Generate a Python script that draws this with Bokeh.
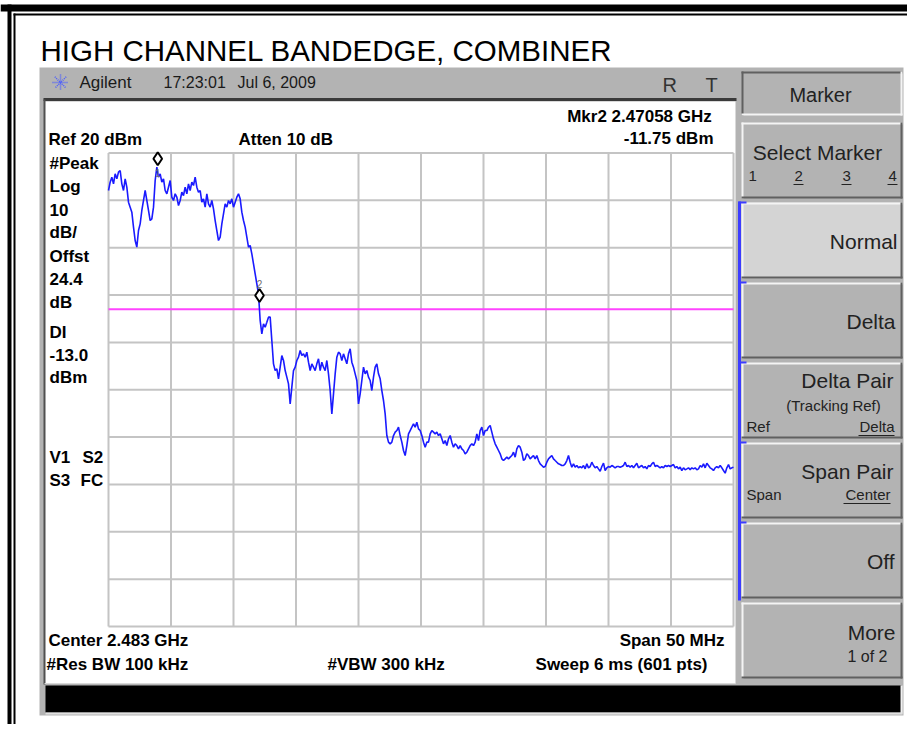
import numpy as np
from bokeh.plotting import figure
from bokeh.models import Range1d
from bokeh.core.properties import value
from bokeh.embed import file_html
from bokeh.resources import INLINE

# ---------------- data ----------------
center_mhz = 2483.0
span_mhz = 50.0
ref_level_dbm = 20.0
db_per_div = 10.0
n_div = 10
display_line_dbm = -13.0

# trace (dBm), sweep points evenly spaced over the span
trace_dbm = [
    12.08, 13.84, 14.90, 13.49, 15.60, 14.54, 15.95, 16.30, 13.49, 12.08,
    14.54, 12.78, 9.62, 8.56, 7.50, 4.34, 1.52, 0.11, 3.63, 5.04,
    7.86, 9.97, 12.08, 9.97, 7.86, 5.74, 6.10, 8.56, 14.19, 17.01,
    14.90, 15.60, 13.84, 14.54, 12.08, 11.38, 12.78, 14.19, 10.67, 9.97,
    11.38, 10.67, 8.91, 9.97, 11.73, 11.02, 12.78, 11.38, 13.49, 12.08,
    13.84, 13.14, 14.90, 12.78, 11.73, 12.08, 9.62, 10.32, 8.56, 11.38,
    9.26, 8.56, 9.97, 8.21, 5.74, 3.63, 1.52, 2.22, 5.04, 7.15,
    9.26, 8.56, 9.97, 9.26, 10.32, 8.56, 9.62, 10.67, 11.38, 10.32,
    7.50, 5.74, 4.34, 2.22, 0.11, 0.46, -1.30, -3.41, -5.52, -7.63,
    -9.74, -15.38, -18.19, -16.08, -16.78, -15.73, -14.67, -14.67, -19.60, -24.53,
    -25.94, -25.58, -27.70, -25.23, -22.77, -23.82, -25.94, -27.34, -28.75, -32.98,
    -29.46, -25.94, -25.23, -23.82, -23.12, -21.71, -22.77, -22.42, -23.12, -22.06,
    -24.18, -25.94, -24.53, -25.23, -25.94, -24.53, -23.47, -25.94, -24.18, -25.23,
    -25.94, -23.82, -26.64, -30.16, -35.09, -30.86, -26.64, -23.12, -22.06, -22.42,
    -23.82, -22.42, -23.47, -24.53, -22.42, -21.36, -24.18, -25.23, -26.64, -28.05,
    -32.98, -30.86, -28.05, -25.23, -26.64, -25.94, -27.34, -28.05, -30.16, -27.34,
    -25.23, -24.53, -26.64, -27.70,
    -30.16, -32.27, -35.09, -39.67, -41.07, -41.43, -41.07, -39.67, -38.96, -38.61,
    -37.91, -39.67, -41.07, -42.83, -43.89, -41.78, -39.31, -38.61, -37.91, -37.20,
    -37.91, -36.85, -38.26, -38.61, -39.67, -41.07, -42.13, -41.07, -41.07, -39.31,
    -38.61, -38.96, -39.31, -38.96, -39.67, -39.31, -40.37, -41.43, -40.72, -41.78,
    -40.37, -39.67, -41.07, -42.13, -41.43, -41.78, -42.48, -41.78, -42.48, -42.83,
    -43.54, -43.19, -42.48, -41.78, -41.43, -41.78, -41.07, -39.31, -40.72, -38.61,
    -37.91, -39.67, -38.61, -38.61, -37.91, -37.55, -38.96, -40.37, -41.43, -42.13,
    -42.83, -43.54, -44.59, -44.95, -44.59, -44.24, -44.59, -44.24, -43.89, -43.19,
    -44.24, -42.48, -41.78, -42.13, -43.19, -44.95, -44.59, -43.54, -43.89, -44.59,
    -44.24, -43.89, -44.59, -43.89, -44.95, -45.65, -46.00, -46.35, -46.21, -45.30,
    -44.59, -44.24, -43.89, -44.59, -44.95, -45.30, -45.65, -45.79, -46.00, -46.00,
    -45.65, -44.95, -43.89, -45.30, -46.35, -45.65, -46.35, -46.00, -46.49, -46.21,
    -46.49, -46.00, -46.71, -45.65, -46.49, -46.21, -45.30, -46.00, -46.49, -46.21,
    -46.71, -47.20, -46.21, -45.51, -47.06, -46.49, -46.21, -46.35, -46.00, -46.21,
    -46.49, -46.21, -46.21, -46.35, -46.21, -46.00, -45.30, -46.21, -46.00, -46.35,
    -46.00, -46.49, -46.00, -45.51, -46.49, -46.21, -46.00, -46.49, -46.21, -46.71,
    -46.00, -46.21, -45.65, -45.30, -46.21, -46.00, -46.21, -46.49, -46.21, -46.49,
    -46.00, -46.21, -46.00, -46.21, -46.00, -45.79, -46.49, -46.21, -46.71, -46.35,
    -47.06, -46.49, -46.92, -46.71, -46.49, -46.92, -46.49, -46.71, -46.49, -46.92,
    -46.71, -46.00, -46.35, -45.65, -46.49, -45.51, -46.00, -46.49, -46.71, -47.06,
    -46.49, -46.21, -46.49, -46.00, -46.49, -47.06, -47.62, -46.49, -45.79, -46.71,
    -46.49, -46.35,
]

marker_ids = ["1", "2"]
marker_mhz = [2461.94, 2470.08]
marker_dbm = [18.8, -10.1]

title_text = "HIGH CHANNEL BANDEDGE, COMBINER"
left_labels = ["#Peak", "Log", "10", "dB/", "Offst", "24.4", "dB", "DI", "-13.0", "dBm"]

# ---------------- layout (picture pixel coordinates) ----------------
OX, OY = 0, 0
W, H = 907, 724
GL, GR, GT, GB = 108.0, 733.0, 152.5, 626.0   # graticule box
TXT_SHIFT = 0.37  # em, compensation of the rendered alphabetic baseline

f_start = center_mhz - span_mhz / 2
f_stop = center_mhz + span_mhz / 2
db_bottom = ref_level_dbm - db_per_div * n_div
mhz_px = (f_stop - f_start) / (GR - GL)
db_px = (ref_level_dbm - db_bottom) / (GB - GT)

p = figure(width=W, height=H, output_backend="svg", toolbar_location=None,
           x_range=Range1d(OX, OX + W), y_range=Range1d(OY + H, OY),
           x_axis_location=None, y_axis_location=None, min_border=0)
p.grid.visible = False
p.outline_line_color = None
p.background_fill_color = "white"
p.border_fill_color = "white"
p.extra_x_ranges = {"freq": Range1d(f_start - (GL - OX) * mhz_px, f_stop + (OX + W - GR) * mhz_px)}
p.extra_y_ranges = {"dbm": Range1d(db_bottom - (OY + H - GB) * db_px, ref_level_dbm + (GT - OY) * db_px)}

FONT = value("Liberation Sans")


def txt(x, y, s, size, bold=False, align="left", color="#000000"):
    p.text(x=[x], y=[y - TXT_SHIFT * size], text=[s], text_font=FONT, text_font_size=f"{size}px",
           text_font_style="bold" if bold else "normal", text_align=align,
           text_baseline="alphabetic", text_color=color)


def rect(l, t, r, b, color):
    p.quad(left=[l], right=[r], top=[t], bottom=[b], fill_color=color, line_color=None)


def hline(x0, x1, y, color, w):
    p.segment(x0=[x0], x1=[x1], y0=[y], y1=[y], line_color=color, line_width=w)


def vline(x, y0, y1, color, w):
    p.segment(x0=[x], x1=[x], y0=[y0], y1=[y1], line_color=color, line_width=w)


def key(l, t, r, b, fill, raised=True):
    rect(l, t, r, b, fill)
    hi, lo = ("#f4f4f4", "#606060") if raised else ("#606060", "#f4f4f4")
    hline(l, r, t + 1, hi, 2)
    vline(l + 1, t, b, hi, 2)
    hline(l, r, b - 1, lo, 2)
    vline(r - 1, t, b, lo, 2)


# page border
rect(0, 4, W, 11, "#000000")
rect(7, 4, 11, H, "#000000")
rect(13, 13, W, 15, "#000000")
rect(13, 13, 15, H, "#000000")

# title
txt(40, 61, title_text, 29.5)

# instrument body
GRAY = "#b3b3b3"
rect(39, 67, 903, 715, GRAY)
rect(44, 101, 735, 683, "#ffffff")
hline(43, 736, 99, "#3a3a3a", 3)
vline(44, 99, 684, "#505050", 2)
hline(44, 735, 683, "#d8d8d8", 1)
# status bar
rect(45, 685, 901, 712, "#000000")
vline(901, 685, 713, "#f0f0f0", 2)
hline(45, 902, 713, "#e0e0e0", 2)

# header
for ang in np.linspace(0, np.pi, 4, endpoint=False):
    dx, dy = 8 * np.cos(ang), 8 * np.sin(ang)
    p.segment(x0=[60 - dx], x1=[60 + dx], y0=[82 - dy], y1=[82 + dy],
              line_color="#4a5cff", line_width=1.5, line_dash="1 1")
txt(79, 88, "Agilent", 17, color="#1a1a1a")
txt(163, 88, "17:23:01", 16, color="#1a1a1a")
txt(237, 88, "Jul 6, 2009", 16, color="#1a1a1a")
txt(662, 92, "R", 20, color="#333333")
txt(705, 92, "T", 20, color="#333333")

# soft keys
key(741, 71, 902, 115, GRAY, raised=False)
txt(820, 102, "Marker", 20, align="center", color="#222222")
key_tops = [122, 202, 282, 362, 442, 522, 602]
for i, t in enumerate(key_tops):
    key(741, t, 902, t + 76, "#d4d4d4" if i == 1 else GRAY)
# blue active bar
vline(739, 201, 600, "#3c3cff", 3)
for t in key_tops[1:6]:
    hline(738, 746, t, "#3c3cff", 2)

txt(817, 160, "Select Marker", 21, align="center", color="#222222")
for lab, xx, ul in [("1", 748, False), ("2", 794, True), ("3", 842, True), ("4", 888, True)]:
    txt(xx, 181, lab, 15, color="#222222")
    if ul:
        hline(xx - 1, xx + 9, 184, "#222222", 1)
txt(897, 249, "Normal", 21, align="right", color="#222222")
txt(895, 329, "Delta", 21, align="right", color="#222222")
txt(893, 388, "Delta Pair", 21, align="right", color="#222222")
txt(833, 411, "(Tracking Ref)", 15, align="center", color="#222222")
txt(746, 432, "Ref", 15, color="#222222")
txt(894, 432, "Delta", 15, align="right", color="#222222")
hline(858, 894, 435, "#222222", 1)
txt(893, 479, "Span Pair", 21, align="right", color="#222222")
txt(746, 500, "Span", 15, color="#222222")
txt(890, 500, "Center", 15, align="right", color="#222222")
hline(843, 890, 503, "#222222", 1)
txt(894, 569, "Off", 21, align="right", color="#222222")
txt(895, 640, "More", 21, align="right", color="#222222")
txt(887, 662, "1 of 2", 16, align="right", color="#222222")

# screen annotations
txt(48, 145, "Ref 20 dBm", 17, bold=True)
txt(238, 145, "Atten 10 dB", 17, bold=True)
txt(716, 122, "Mkr2  2.47058 GHz", 17, bold=True, align="right")
txt(713, 144, "-11.75 dBm", 17, bold=True, align="right")
for i, lab in enumerate(left_labels[:7]):
    txt(49, 169 + i * 23.2, lab, 17, bold=True)
for i, lab in enumerate(left_labels[7:]):
    txt(49, 338 + i * 22.5, lab, 17, bold=True)
txt(49, 463, "V1", 17, bold=True)
txt(82, 463, "S2", 17, bold=True)
txt(49, 486, "S3", 17, bold=True)
txt(80, 486, "FC", 17, bold=True)
txt(48, 646, "Center 2.483 GHz", 17, bold=True)
txt(724, 646, "Span 50 MHz", 17, bold=True, align="right")
txt(46, 670, "#Res BW 100 kHz", 17, bold=True)
txt(327, 670, "#VBW 300 kHz", 17, bold=True)
txt(707, 670, "Sweep 6 ms (601 pts)", 17, bold=True, align="right")

# graticule
f_ticks = [f_start + i * span_mhz / n_div for i in range(n_div + 1)]
db_ticks = [ref_level_dbm - i * db_per_div for i in range(n_div + 1)]
p.segment(x0=f_ticks, x1=f_ticks, y0=[db_bottom] * len(f_ticks), y1=[ref_level_dbm] * len(f_ticks),
          x_range_name="freq", y_range_name="dbm", line_color="#c4c4c4", line_width=2)
p.segment(x0=[f_start] * len(db_ticks), x1=[f_stop] * len(db_ticks), y0=db_ticks, y1=db_ticks,
          x_range_name="freq", y_range_name="dbm", line_color="#c4c4c4", line_width=2)

# display line
p.segment(x0=[f_start], x1=[f_stop], y0=[display_line_dbm], y1=[display_line_dbm],
          x_range_name="freq", y_range_name="dbm", line_color="#ff44ff", line_width=2)

# trace
sweep_mhz = np.linspace(f_start, f_stop, len(trace_dbm))
p.line(sweep_mhz, trace_dbm, x_range_name="freq", y_range_name="dbm",
       line_color="#1a1aff", line_width=1.6)

# markers
p.scatter(marker_mhz, marker_dbm, marker="diamond", size=13, fill_color="white",
          line_color="black", line_width=2, x_range_name="freq", y_range_name="dbm")
p.text(x=marker_mhz, y=marker_dbm, text=marker_ids, x_range_name="freq", y_range_name="dbm",
       text_font=FONT, text_font_size="10px", text_color="#707070", text_align="center",
       y_offset=[14, -12], text_baseline="alphabetic")

open("out.html", "w").write(file_html(p, INLINE))
